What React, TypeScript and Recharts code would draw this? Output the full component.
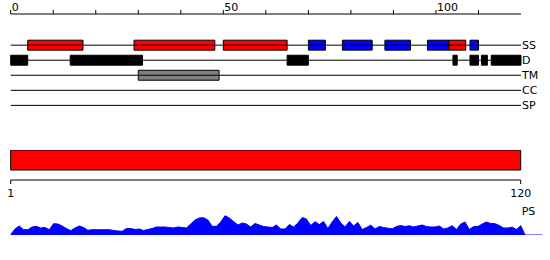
import { ComposedChart, AreaChart, Area, XAxis, YAxis, ReferenceArea, ReferenceLine } from "recharts";

// top ruler (residue numbering)
const topTicks = [0, 10, 20, 30, 40, 50, 60, 70, 80, 90, 100, 110];
const topTickLabels = [0, 50, 100];

// feature tracks, top to bottom
const tracks = ["SS", "D", "TM", "CC", "SP"];

// SS: helices (red) and strands (blue), [start, end]
const ssHelix = [[4, 17], [29, 48], [50, 65], [103, 107]];
const ssStrand = [[70, 74], [78, 85], [88, 94], [98, 103], [108, 110]];
// D: disordered regions
const disorder = [[0, 4], [14, 31], [65, 70], [104, 105], [108, 110], [110.7, 112.1], [113, 120]];
// TM: transmembrane
const transmem = [[30, 49]];

// PS block and its axis
const psRange = [1, 120];
const psTicks = [1, 120];

// per-residue profile below the PS axis
const psProfile = [
  0.5, 6, 9, 5.3, 5.3, 8, 8.7, 7, 7.5, 5.3,
  11.3, 11, 9, 6.5, 4.3, 7, 9, 7.5, 4.7, 5.3,
  5.3, 5.3, 5.3, 5.3, 4.5, 4, 3.7, 6.5, 6.5, 5.5,
  6, 4.5, 5.5, 6.5, 8, 8, 8, 7.5, 7, 8,
  7.5, 7, 11, 15, 17, 17.3, 15, 8.7, 8.7, 13,
  19.3, 17, 13.5, 10, 12, 11, 8, 11.5, 10, 8.5,
  8, 7.5, 10, 6, 6, 10.5, 8, 12, 17.5, 16,
  9.5, 13.3, 10.5, 13.5, 6.5, 13, 18.5, 12, 8, 13.5,
  9, 12.5, 5.5, 7.5, 9.8, 6, 8.5, 7.5, 6.8, 6.2,
  8.5, 9.5, 8.5, 9.2, 8, 9, 10, 8.5, 8, 8,
  9, 6, 7, 9.3, 5.5, 11, 13, 5.5, 8.5, 8.5,
  11, 13, 11.5, 11.3, 9.5, 7, 7, 7.8, 5.5, 9.3,
  0, 0, 0, 0, 0,
];

const FONT = "DejaVu Sans";
const rulerData = topTicks.map((t) => ({ pos: t }));
const psData = psTicks.map((p) => ({ pos: p }));
const profileData = psProfile.map((v, i) => ({ pos: i + 1, ps: v }));

const TopTick = (props: any) => {
  const { x, y, payload } = props;
  if (!topTickLabels.includes(payload.value)) return null;
  return (
    <text x={x + 1} y={y + 3} fontSize={11} fontFamily={FONT} fill="#000" textAnchor="start">
      {payload.value}
    </text>
  );
};

const PsLabel = (props: any) => {
  const vb = props.viewBox;
  return (
    <text x={vb.x + vb.width + 1} y={vb.y + 35} fontSize={11} fontFamily={FONT} fill="#000">
      PS
    </text>
  );
};

export default function App() {
  const box = (segs: number[][], row: number, fill: string, key: string) =>
    segs.map(([s, e], i) => (
      <ReferenceArea
        key={`${key}-${i}`}
        x1={s}
        x2={e}
        y1={row - 0.33}
        y2={row + 0.33}
        fill={fill}
        fillOpacity={1}
        stroke="#000"
        strokeWidth={1}
        ifOverflow="visible"
      />
    ));

  return (
    <div style={{ position: "absolute", left: 0, top: 0, width: 550, height: 260, background: "#fff" }}>
      <div style={{ position: "absolute", left: 0, top: 0 }}>
        <ComposedChart width={550} height={115} data={rulerData} margin={{ top: 0, right: 29, bottom: 0, left: 10.7 }}>
          <XAxis
            dataKey="pos"
            orientation="top"
            type="number"
            domain={[0, 120]}
            ticks={topTicks}
            height={14}
            tickSize={4}
            tick={TopTick}
            stroke="#000"
            allowDataOverflow
          />
          <YAxis hide type="number" domain={[-2.07, 4.64]} reversed allowDataOverflow />
          {tracks.map((t, i) => (
            <ReferenceLine
              key={t}
              y={i}
              stroke="#000"
              strokeWidth={1}
              label={{ value: t, position: "right", offset: 1, fontSize: 11, fontFamily: FONT, fill: "#000" }}
            />
          ))}
          {box(ssHelix, 0, "#ff0000", "h")}
          {box(ssStrand, 0, "#0000ff", "s")}
          {box(disorder, 1, "#000000", "d")}
          {box(transmem, 2, "#808080", "t")}
        </ComposedChart>
      </div>

      <div style={{ position: "absolute", left: 0, top: 150 }}>
        <ComposedChart width={550} height={70} data={psData} margin={{ top: 0, right: 29.3, bottom: 10, left: 10.7 }}>
          <XAxis
            dataKey="pos"
            type="number"
            domain={psRange}
            ticks={psTicks}
            height={30}
            tickSize={4}
            tickMargin={5}
            tick={{ fontSize: 11, fontFamily: FONT, fill: "#000" }}
            stroke="#000"
            allowDataOverflow
            label={<PsLabel />}
          />
          <YAxis hide type="number" domain={[0, 3]} allowDataOverflow />
          <ReferenceArea x1={psRange[0]} x2={psRange[1]} y1={1} y2={3} fill="#ff0000" fillOpacity={1} stroke="#000" strokeWidth={1} />
        </ComposedChart>
      </div>

      <div style={{ position: "absolute", left: 0, top: 205 }}>
        <AreaChart width={550} height={30} data={profileData} margin={{ top: 0, right: 7.8, bottom: 0, left: 10.7 }}>
          <XAxis hide dataKey="pos" type="number" domain={[1, 125]} />
          <YAxis hide type="number" domain={[0, 30]} />
          <Area
            type="linear"
            dataKey="ps"
            stroke="#0000ff"
            strokeWidth={1}
            fill="#0000ff"
            fillOpacity={1}
            dot={false}
            activeDot={false}
            isAnimationActive={false}
          />
        </AreaChart>
      </div>
    </div>
  );
}
